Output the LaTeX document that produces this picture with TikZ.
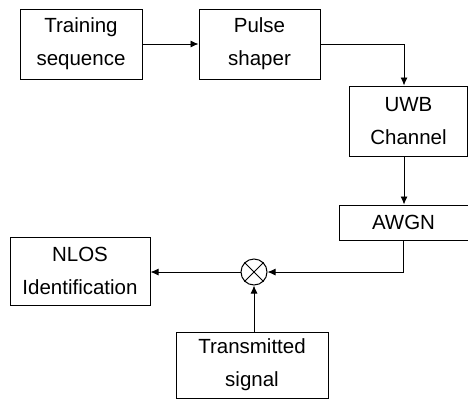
\documentclass[tikz,border=0pt]{standalone}
\usepackage{fontspec}
\setmainfont{Liberation Sans}
\usetikzlibrary{arrows.meta,positioning,calc}

\begin{document}
\begin{tikzpicture}
	[x=1pt,y=-1pt,
	block/.style={draw,line width=1pt,inner sep=0pt,align=center,
		font=\fontsize{20.5}{33}\selectfont},
	flow/.style={line width=0.9pt,-{Latex[length=8pt,width=7pt]}}]
	\useasboundingbox (0,0) rectangle (468,399);
	\node[block,minimum width=122pt,minimum height=70pt] (train) at (81,44) {Training\\sequence};
	\node[block,minimum width=121pt,minimum height=70pt] (pulse) at (259.5,44) {Pulse\\shaper};
	\node[block,minimum width=118pt,minimum height=70pt] (uwb) at (408.5,121) {UWB\\Channel};
	\node[block,minimum width=129pt,minimum height=35pt] (awgn) at (403.5,222.5) {AWGN};
	\node[draw,circle,line width=1pt,minimum size=26pt,inner sep=0pt] (mix) at (254,272) {};
	\node[block,minimum width=140pt,minimum height=68pt] (nlos) at (80,271) {NLOS\\Identification};
	\node[block,minimum width=152pt,minimum height=66pt] (trans) at (252,365) {Transmitted\\signal};
	% cross in the mixer
	\draw[line width=1pt] (mix.north west) -- (mix.south east)
		(mix.north east) -- (mix.south west);
	% signal flow
	\draw[flow] (train) -- (pulse);
	\draw[flow] (pulse.east) -| ([xshift=-4.5pt]uwb.north);
	\draw[flow] ([xshift=-4.5pt]uwb.south) -- ([xshift=-4.5pt]uwb.south |- awgn.north);
	\draw[flow] (awgn.south) |- (mix.east);
	\draw[flow] (mix.west) -- (nlos.east |- mix);
	\draw[flow] (trans.north -| mix) -- (mix.south);
\end{tikzpicture}
\end{document}
